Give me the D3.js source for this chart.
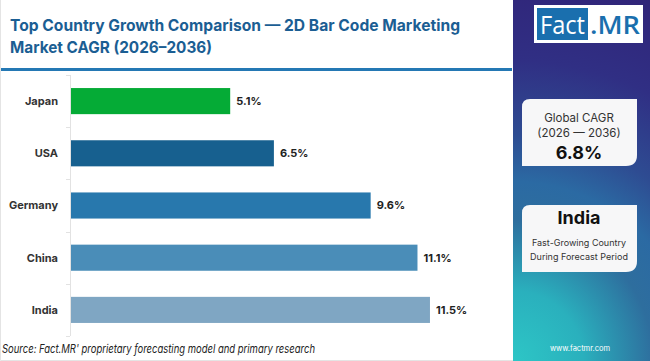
<!DOCTYPE html>
<html>
<head>
<meta charset="utf-8">
<script src="https://cdn.jsdelivr.net/npm/d3@7"></script>
<style>
  body { margin: 0; background: #fff; }
  svg { display: block; font-family: "Inter", "Open Sans", sans-serif; }
</style>
</head>
<body>
<script>
// data
var countries = ["Japan", "USA", "Germany", "China", "India"];
var cagr = [5.1, 6.5, 9.6, 11.1, 11.5];
var titleLines = ["Top Country Growth Comparison \u2014 2D Bar Code Marketing", "Market CAGR (2026\u20132036)"];
var globalCagr = "6.8%";
var topCountry = "India";

var svgWidth = 650, svgHeight = 361;
var svg = d3.select("body").append("svg").attr("width", svgWidth).attr("height", svgHeight);

var barColor = d3.scaleOrdinal().domain(countries)
  .range(["#05ab36", "#17608f", "#2878ad", "#4a8db8", "#7fa6c3"]);

// title (widths)
var titleWidths = [450, 202];
svg.append("g").selectAll("text")
  .data(titleLines)
  .enter().append("text")
  .attr("x", 10)
  .attr("y", function(d, i) { return 31 + i * 22; })
  .attr("fill", "#1b5e93")
  .attr("font-size", 16)
  .attr("font-weight", 700)
  .attr("textLength", function(d, i) { return titleWidths[i]; })
  .attr("lengthAdjust", "spacingAndGlyphs")
  .text(function(d) { return d; });

// blue rule under title
svg.append("rect").attr("x", 0).attr("y", 68).attr("width", 512).attr("height", 3).attr("fill", "#2478b4");

// scales
var x = d3.scaleLinear().domain([0, 14]).range([71, 508]);
var y = d3.scaleBand().domain(countries).range([75, 336]).paddingInner(0.5).paddingOuter(0.25);

// axis line + boundary ticks
svg.append("line").attr("x1", 70.5).attr("x2", 70.5).attr("y1", 75).attr("y2", 336)
  .attr("stroke", "#e2e2e2");
var bounds = countries.map(function(c) { return y(c) - y.step() * y.paddingInner() / 2; });
bounds.push(336);
svg.append("g").selectAll("line")
  .data(bounds)
  .enter().append("line")
  .attr("x1", 66).attr("x2", 70)
  .attr("y1", function(d) { return Math.round(d) + 0.5; })
  .attr("y2", function(d) { return Math.round(d) + 0.5; })
  .attr("stroke", "#e2e2e2");

// bars
svg.append("g").selectAll("rect")
  .data(countries)
  .enter().append("rect")
  .attr("x", x(0))
  .attr("y", function(d) { return y(d); })
  .attr("width", function(d, i) { return x(cagr[i]) - x(0); })
  .attr("height", y.bandwidth())
  .attr("fill", function(d) { return barColor(d); });

// category labels
svg.append("g").selectAll("text")
  .data(countries)
  .enter().append("text")
  .attr("x", 58)
  .attr("y", function(d) { return y(d) + y.bandwidth() / 2; })
  .attr("dy", "0.35em")
  .attr("text-anchor", "end")
  .attr("font-size", 11)
  .attr("font-weight", 700)
  .attr("fill", "#333")
  .text(function(d) { return d; });

// value labels
svg.append("g").selectAll("text")
  .data(countries)
  .enter().append("text")
  .attr("x", function(d, i) { return x(cagr[i]) + 6; })
  .attr("y", function(d) { return y(d) + y.bandwidth() / 2; })
  .attr("dy", "0.35em")
  .attr("font-size", 11)
  .attr("font-weight", 700)
  .attr("fill", "#222")
  .text(function(d, i) { return cagr[i].toFixed(1) + "%"; });

// source
svg.append("text")
  .attr("x", 2).attr("y", 353)
  .attr("font-size", 11.5)
  .attr("font-style", "italic")
  .attr("fill", "#222")
  .attr("textLength", 313)
  .attr("lengthAdjust", "spacingAndGlyphs")
  .text("Source: Fact.MR' proprietary forecasting model and primary research");

// light frame
svg.append("path").attr("d", "M0.5,0V360.5H513").attr("fill", "none").attr("stroke", "#e4e4e4");

// right panel
var defs = svg.append("defs");
var grad = defs.append("radialGradient").attr("id", "panelGrad")
  .attr("gradientUnits", "userSpaceOnUse")
  .attr("cx", 513).attr("cy", 361).attr("r", 390);
[[0, "#2dc6c6"], [0.18, "#2ab0bd"], [0.36, "#2e6e9e"], [0.46, "#2b6aa3"], [0.58, "#2e4c92"], [0.77, "#302f84"], [1, "#302478"]]
  .forEach(function(s) { grad.append("stop").attr("offset", s[0]).attr("stop-color", s[1]); });

svg.append("rect").attr("x", 513).attr("y", 0).attr("width", 137).attr("height", 361).attr("fill", "url(#panelGrad)");

// logo
svg.append("rect").attr("x", 534).attr("y", 5).attr("width", 109).attr("height", 38).attr("fill", "#fff");
svg.append("rect").attr("x", 537).attr("y", 8).attr("width", 51).attr("height", 32).attr("fill", "#1a6fae");
svg.append("text").attr("x", 540).attr("y", 34).attr("font-size", 26).attr("fill", "#fff")
  .attr("font-family", "Open Sans")
  .attr("textLength", 45).attr("lengthAdjust", "spacingAndGlyphs").text("Fact");
svg.append("text").attr("x", 590).attr("y", 34).attr("font-size", 26).attr("font-weight", 600).attr("fill", "#1a6fae")
  .attr("font-family", "Open Sans")
  .attr("textLength", 50).attr("lengthAdjust", "spacingAndGlyphs").text(".MR");

// cards
function card(y0, y1) {
  var x0 = 522, x1 = 637, r1 = 8, r2 = 11;
  return "M" + x0 + "," + (y0 + r1) + "Q" + x0 + "," + y0 + " " + (x0 + r1) + "," + y0 +
    "H" + x1 + "V" + (y1 - r2) + "Q" + x1 + "," + y1 + " " + (x1 - r2) + "," + y1 +
    "H" + x0 + "Z";
}
svg.append("path").attr("d", card(99, 166)).attr("fill", "#f7f7f8");
svg.append("path").attr("d", card(205, 272)).attr("fill", "#f7f7f8");

var cardText = [
  {t: "Global CAGR", y: 118, s: 11.5, w: 400, c: "#333"},
  {t: "(2026 \u2014 2036)", y: 133, s: 11.5, w: 400, c: "#333"},
  {t: globalCagr, y: 153, s: 18, w: 700, c: "#111"},
  {t: topCountry, y: 218, s: 18, w: 700, c: "#111"},
  {t: "Fast-Growing Country", y: 243, s: 9, w: 400, c: "#333"},
  {t: "During Forecast Period", y: 257, s: 9, w: 400, c: "#333"}
];
svg.append("g").selectAll("text")
  .data(cardText)
  .enter().append("text")
  .attr("x", 579)
  .attr("y", function(d) { return d.y; })
  .attr("dy", "0.35em")
  .attr("text-anchor", "middle")
  .attr("font-size", function(d) { return d.s; })
  .attr("font-weight", function(d) { return d.w; })
  .attr("fill", function(d) { return d.c; })
  .text(function(d) { return d.t; });

svg.append("text").attr("x", 580).attr("y", 348).attr("dy", "0.35em")
  .attr("text-anchor", "middle").attr("font-size", 7.5).attr("fill", "#fff")
  .text("www.factmr.com");
</script>
</body>
</html>
